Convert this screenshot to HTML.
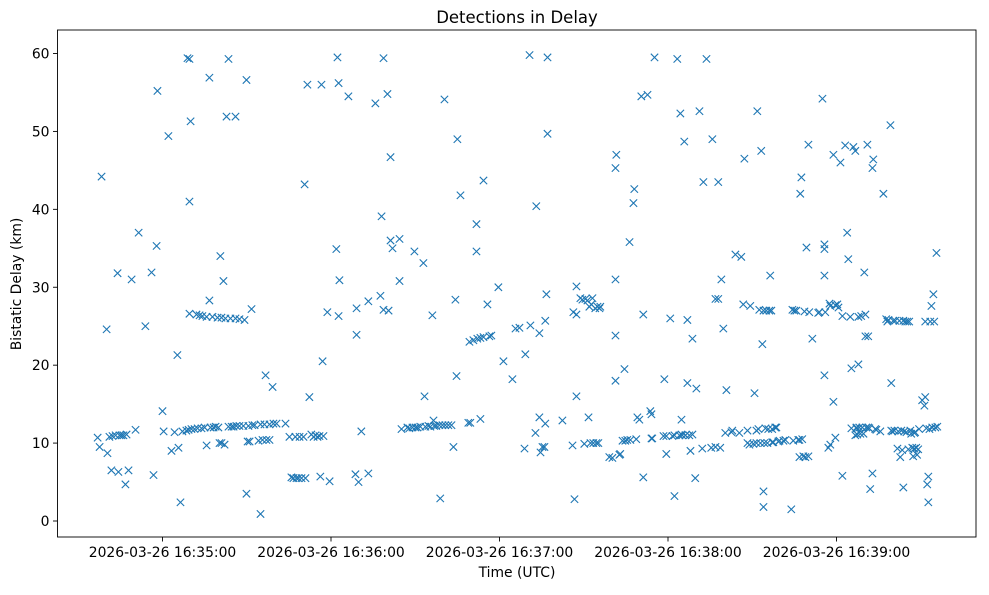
<!DOCTYPE html>
<html><head><meta charset="utf-8"><style>
body{margin:0;background:#fff;}
svg text{font-family:"DejaVu Sans","Liberation Sans",sans-serif;fill:#000;}
</style></head><body>
<svg id="chart" width="989" height="590" xmlns="http://www.w3.org/2000/svg">
<rect width="989" height="590" fill="#fff"/>
<text x="517" y="23" font-size="16.5" text-anchor="middle">Detections in Delay</text>
<text x="517" y="577" font-size="13.9" text-anchor="middle">Time (UTC)</text>
<text transform="translate(21,284) rotate(-90)" font-size="13.9" text-anchor="middle">Bistatic Delay (km)</text>
<g id="marks"></g>
<g id="axes"></g>
</svg>
<script>
const xTickLabels=["2026-03-26 16:35:00","2026-03-26 16:36:00","2026-03-26 16:37:00","2026-03-26 16:38:00","2026-03-26 16:39:00"];
const xTickSeconds=[0,60,120,180,240];
const yTickValues=[0,10,20,30,40,50,60];
// seconds relative to 16:35:00 UTC
const times=[-23.1,-22.4,-21.7,-19.9,-19.6,-18.9,-18.2,-17.8,-16.7,-16.0,-15.7,-15.3,-14.6,-13.9,-13.2,-12.8,-12.1,-11.0,-9.6,-8.5,-6.1,-3.9,-3.2,-2.1,-1.8,0,0.4,2.1,3.2,4.3,5.3,5.7,6.4,7.1,8.5,8.9,9.6,9.6,9.6,10.0,9.3,10.3,11.4,12.1,12.5,13.2,13.9,14.2,15.0,15.7,15.7,16.7,16.7,17.1,17.8,18.2,18.9,19.6,19.9,20.3,20.6,21.0,21.0,21.7,22.1,22.4,22.8,23.5,23.5,24.2,24.6,25.3,26.0,26.0,26.3,27.4,27.4,28.8,29.2,29.9,29.9,30.3,30.6,31.0,31.7,32.0,32.8,34.2,34.9,34.9,35.6,36.3,36.7,37.0,38.1,38.1,39.2,39.5,40.6,43.8,45.2,45.9,46.6,47.3,47.7,48.4,48.8,49.5,50.2,50.6,50.9,51.6,52.3,53.0,53.8,54.5,55.2,55.9,56.2,56.6,57.0,57.3,58.7,59.5,61.9,62.3,62.7,62.7,63.0,66.2,68.7,69.1,69.1,69.8,70.8,73.3,73.3,75.8,77.6,78.0,78.7,78.7,80.1,80.5,81.2,81.2,81.9,84.4,84.4,85.1,87.2,87.9,89.0,89.7,90.1,90.8,91.8,92.9,93.3,93.6,94.7,95.4,96.1,96.5,96.8,97.5,98.6,98.9,99.7,100.4,100.7,101.8,102.9,103.6,104.3,104.7,105.0,106.1,108.9,109.3,109.6,110.7,111.8,111.8,112.1,113.2,113.2,114.3,114.3,115.7,116.4,117.1,119.6,121.4,124.6,125.7,127.1,128.9,129.2,130.7,131.0,132.8,133.1,134.2,134.2,134.6,135.3,136.0,136.3,136.3,136.7,137.1,137.1,142.4,146.0,146.3,146.7,147.4,147.4,147.4,148.8,149.5,150.2,150.6,151.3,151.7,152.0,152.4,152.7,153.1,153.4,154.1,154.5,154.9,155.2,155.6,155.9,159.1,160.2,161.3,161.3,161.3,161.3,161.6,162.7,163.0,163.8,164.5,164.8,165.5,166.3,166.6,167.7,168.0,168.7,169.1,169.8,170.5,171.2,171.2,172.7,173.7,174.1,174.1,174.4,175.2,178.4,178.7,179.4,179.4,180.8,181.6,182.3,182.3,183.3,184.1,184.4,184.8,184.8,185.1,185.8,186.2,186.2,186.9,186.9,187.6,188.0,188.7,188.7,189.7,190.1,191.2,192.2,192.6,193.7,195.4,195.8,196.9,196.9,197.9,197.9,198.6,199.0,199.7,200.4,200.8,202.6,202.9,204.0,205.4,206.1,206.8,207.2,208.3,208.3,209.0,209.3,210.4,210.8,211.5,211.5,211.8,212.2,212.5,212.9,213.2,213.6,214.0,214.0,214.0,214.3,214.7,215.0,215.4,215.7,216.1,216.4,216.8,217.1,217.1,217.5,218.2,218.6,219.3,219.7,221.1,221.8,223.9,224.3,224.6,225.0,225.7,226.4,226.8,226.8,227.1,227.5,227.8,228.2,228.6,228.9,229.3,230.0,230.0,230.3,231.4,233.5,233.9,235.0,235.7,235.7,235.7,235.7,236.0,237.1,237.5,237.8,237.8,238.9,238.9,239.6,239.6,240.3,240.7,241.4,242.1,242.1,243.1,243.8,244.2,244.9,245.3,245.3,246.0,246.7,246.7,247.1,247.1,247.4,247.8,247.8,248.1,248.5,248.8,249.2,249.6,249.9,250.3,250.3,250.6,251.0,251.3,251.3,251.7,252.0,252.8,252.8,253.1,253.8,254.2,255.6,256.7,257.7,258.1,258.5,259.2,259.5,259.5,259.9,260.2,260.6,260.9,261.7,262.0,262.4,262.7,263.1,263.4,263.8,263.8,264.1,264.5,264.9,265.2,265.6,265.9,266.3,266.6,267.0,267.3,267.7,267.7,268.0,268.4,268.7,269.1,269.4,270.5,271.3,271.6,271.6,272.0,272.3,272.7,272.7,273.1,273.4,273.8,274.1,274.5,274.8,275.2,275.6,275.9,275.9];
const delays=[10.7,9.5,44.2,24.6,8.7,10.8,6.5,10.9,11,31.8,6.3,11,11,11,4.7,11.1,6.5,31,11.7,37,25,31.9,5.9,35.3,55.2,14.1,11.5,49.4,9,11.4,21.3,9.4,2.4,11.5,11.6,59.4,59.3,41,26.6,51.3,11.7,11.8,11.8,26.5,11.9,26.4,11.9,26.3,12,9.7,26.2,28.3,56.9,12,26.2,12,12.1,26.1,12,10,34,10,26.1,30.8,9.8,26,51.9,59.3,12.1,26,12.1,12.1,51.9,26,12.2,12.2,25.9,12.2,25.8,3.5,56.6,10.2,12.2,10.2,27.2,12.3,12.3,10.3,0.9,12.4,10.4,12.4,18.7,10.4,10.4,12.4,17.2,12.5,12.5,12.5,10.8,5.6,5.5,10.8,5.5,5.5,10.8,5.5,10.8,43.2,5.5,56,15.9,11.1,10.8,11,10.8,10.9,5.7,56,20.5,10.9,26.8,5.1,34.9,59.5,56.2,26.3,30.9,54.5,6,23.9,27.3,5,11.5,6.1,28.2,53.6,28.9,39.1,59.4,27.1,54.8,27,46.7,36,35,36.2,30.8,11.8,12,11.9,12,34.6,12,12,12.1,33.1,16,12.1,12.2,12.1,26.4,12.9,12.2,12.2,12.3,2.9,12.3,54.1,12.3,12.3,12.3,9.5,28.4,18.6,49,41.8,12.6,23,12.6,23.2,38.1,34.6,23.4,13.1,23.5,43.7,23.6,27.8,23.7,23.8,30,20.5,18.2,24.7,24.8,9.3,21.4,59.8,25.1,11.3,40.4,24.1,13.3,8.8,9.5,9.5,12.5,25.7,29.1,49.7,59.5,12.9,9.7,26.8,2.8,26.5,30.1,16,28.6,28.4,9.9,28.5,28.3,13.3,27.5,10,27.8,28.6,10,27.3,10,27.5,10,27.3,27.5,8.2,8.1,45.3,31,23.8,18,47,8.5,8.6,10.3,19.5,10.3,10.4,35.8,10.4,40.8,42.6,10.5,13.3,13,54.5,5.6,26.5,54.7,14.1,13.7,10.6,10.6,59.5,10.9,18.2,10.9,8.6,26,10.9,3.2,11,59.3,11,52.3,13,11.1,11,48.7,11,11,25.8,17.7,11,9,11.1,23.4,5.5,17,52.6,9.3,43.5,59.3,9.4,49,9.5,28.5,43.5,28.5,9.4,31,24.7,11.3,16.8,11.4,11.6,34.2,11.3,33.9,27.8,46.5,10,11.6,9.8,27.6,9.9,16.4,11.6,10,52.6,11.8,27.1,10,47.5,22.7,1.8,3.8,27,10,11.9,27,10,11.8,27,31.5,27,10.1,11.8,10.1,12,12,10.2,10.3,10.3,10.4,1.5,27.1,10.3,27,27,10.4,8.2,10.4,42,44.1,10.5,8.3,26.9,8.2,35.1,48.3,8.3,26.8,23.4,26.7,26.8,54.2,35.5,31.5,18.7,34.9,26.8,9.4,27.9,9.8,27.6,15.3,47,10.7,27.7,27.8,27.4,46,5.8,26.3,48.2,37,33.6,26.2,19.6,11.9,48,11,47.5,11.9,12,11.1,26.2,20.1,12,11.2,26.3,12,11.2,31.9,26.5,23.7,12,48.3,23.7,12,11.9,4.1,6.1,45.3,46.4,11.8,11.7,11.5,42,25.9,25.6,25.8,50.8,17.7,11.6,11.5,25.7,11.6,25.7,9.3,11.5,25.7,8.2,11.6,9.1,4.3,25.7,11.5,25.6,11.4,25.6,9.2,25.6,11.6,11.2,9.4,8.3,11.3,9.3,11.4,9.4,8.5,9.2,11.8,15.5,14.8,15.9,25.6,11.9,4.7,5.7,2.4,11.8,25.6,27.6,12,29.1,25.6,12,34.4,12.1];

const NS="http://www.w3.org/2000/svg";
const PL=57.5,PR=976,PT=30,PB=537;
function xs(t){return 162.5+t*(331-162.5)/60;}
function ys(v){return 521-v*(521-53.5)/60;}
const marks=document.getElementById('marks');
const axes=document.getElementById('axes');
function mk(tag,attrs,parent){const e=document.createElementNS(NS,tag);for(const k in attrs)e.setAttribute(k,attrs[k]);parent.appendChild(e);return e;}
for(let i=0;i<times.length;i++){
  const cx=xs(times[i]),cy=ys(delays[i]),s=3.7;
  const p=mk('path',{d:`M${cx-s},${cy-s}L${cx+s},${cy+s}M${cx-s},${cy+s}L${cx+s},${cy-s}`,stroke:'#1f77b4','stroke-width':1.1,fill:'none'},marks);
  
  
}
const frame=mk('rect',{x:PL,y:PT,width:PR-PL,height:PB-PT,fill:'none',stroke:'#000','stroke-width':0.9},axes);


for(let i=0;i<xTickSeconds.length;i++){
  const x=xs(xTickSeconds[i]);
  const tk=mk('line',{x1:x,x2:x,y1:PB,y2:PB+4.5,stroke:'#000','stroke-width':0.9},axes);
  
  
  const tl=mk('text',{x:x,y:PB+20,'font-size':13.9,'text-anchor':'middle'},axes);
  tl.textContent=xTickLabels[i];
  
  
}
for(let i=0;i<yTickValues.length;i++){
  const y=ys(yTickValues[i]);
  const tk=mk('line',{x1:PL-4.5,x2:PL,y1:y,y2:y,stroke:'#000','stroke-width':0.9},axes);
  
  
  const tl=mk('text',{x:PL-8,y:y+5,'font-size':13.9,'text-anchor':'end'},axes);
  tl.textContent=String(yTickValues[i]);
  
  
}
</script>
</body></html>
